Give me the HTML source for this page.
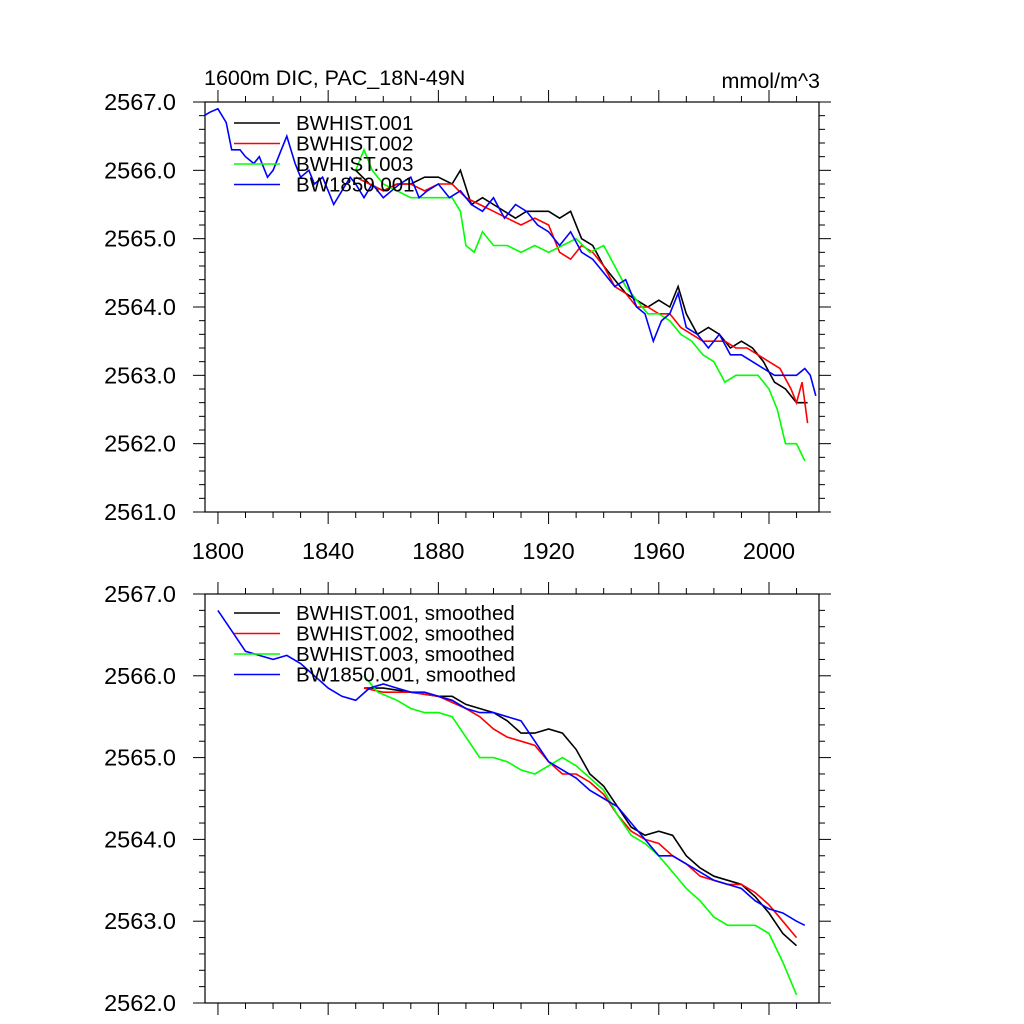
<!DOCTYPE html>
<html><head><meta charset="utf-8"><style>
body{margin:0;background:#fff}
svg{display:block;font-family:"Liberation Sans",sans-serif}
</style></head><body>
<svg id="c" width="1024" height="1024" xmlns="http://www.w3.org/2000/svg"></svg>
<script>
const b1850Years=[1795,1797,1800,1803,1805,1808,1810,1813,1815,1818,1820,1823,1825,1828,1830,1833,1835,1838,1840,1842,1845,1848,1850,1853,1856,1860,1863,1866,1870,1873,1876,1880,1884,1888,1892,1896,1900,1904,1908,1912,1916,1920,1924,1928,1932,1936,1940,1944,1948,1952,1955,1958,1961,1964,1967,1970,1974,1978,1982,1986,1990,1994,1998,2002,2006,2010,2013,2015,2017];
const b1850Vals=[2566.8,2566.85,2566.9,2566.7,2566.3,2566.3,2566.2,2566.1,2566.2,2565.9,2566.0,2566.3,2566.5,2566.1,2565.9,2566.0,2565.8,2565.9,2565.7,2565.5,2565.7,2565.9,2565.8,2565.6,2565.8,2565.6,2565.7,2565.8,2565.9,2565.6,2565.7,2565.8,2565.6,2565.7,2565.5,2565.4,2565.6,2565.3,2565.5,2565.4,2565.2,2565.1,2564.9,2565.1,2564.8,2564.7,2564.5,2564.3,2564.4,2564.0,2563.9,2563.5,2563.8,2563.9,2564.2,2563.7,2563.6,2563.4,2563.6,2563.3,2563.3,2563.2,2563.1,2563.0,2563.0,2563.0,2563.1,2563.0,2562.7];
const h1Years=[1850,1855,1860,1865,1870,1875,1880,1885,1888,1892,1896,1900,1904,1908,1912,1916,1920,1924,1928,1932,1936,1940,1944,1948,1952,1956,1960,1964,1967,1970,1974,1978,1982,1986,1990,1994,1998,2002,2006,2010,2014];
const h1Vals=[2566.0,2565.8,2565.7,2565.8,2565.8,2565.9,2565.9,2565.8,2566.0,2565.5,2565.6,2565.5,2565.4,2565.3,2565.4,2565.4,2565.4,2565.3,2565.4,2565.0,2564.9,2564.6,2564.4,2564.2,2564.1,2564.0,2564.1,2564.0,2564.3,2563.9,2563.6,2563.7,2563.6,2563.4,2563.5,2563.4,2563.2,2562.9,2562.8,2562.6,2562.6];
const h2Years=[1850,1855,1860,1865,1870,1875,1880,1885,1890,1895,1900,1905,1910,1915,1920,1924,1928,1932,1936,1940,1944,1948,1952,1956,1960,1964,1968,1972,1976,1980,1984,1988,1992,1996,2000,2004,2008,2010,2012,2014];
const h2Vals=[2565.9,2565.8,2565.7,2565.8,2565.8,2565.7,2565.8,2565.8,2565.6,2565.5,2565.4,2565.3,2565.2,2565.3,2565.2,2564.8,2564.7,2564.9,2564.8,2564.6,2564.3,2564.2,2564.0,2564.0,2563.9,2563.9,2563.7,2563.6,2563.5,2563.5,2563.5,2563.4,2563.4,2563.3,2563.2,2563.1,2562.8,2562.6,2562.9,2562.3];
const h3Years=[1850,1853,1856,1860,1865,1870,1875,1880,1885,1888,1890,1893,1896,1900,1905,1910,1915,1920,1925,1930,1935,1940,1944,1948,1952,1956,1960,1964,1968,1972,1976,1980,1984,1988,1992,1996,2000,2003,2006,2010,2013];
const h3Vals=[2566.0,2566.3,2566.0,2565.8,2565.7,2565.6,2565.6,2565.6,2565.6,2565.4,2564.9,2564.8,2565.1,2564.9,2564.9,2564.8,2564.9,2564.8,2564.9,2565.0,2564.8,2564.9,2564.6,2564.3,2564.1,2563.9,2563.9,2563.8,2563.6,2563.5,2563.3,2563.2,2562.9,2563.0,2563.0,2563.0,2562.8,2562.5,2562.0,2562.0,2561.75];
const s1850Years=[1800,1805,1810,1815,1820,1825,1830,1835,1840,1845,1850,1855,1860,1865,1870,1875,1880,1885,1890,1895,1900,1905,1910,1915,1920,1925,1930,1935,1940,1945,1950,1955,1960,1965,1970,1975,1980,1985,1990,1995,2000,2005,2010,2013];
const s1850Vals=[2566.8,2566.55,2566.3,2566.25,2566.2,2566.25,2566.15,2566.0,2565.85,2565.75,2565.7,2565.85,2565.9,2565.85,2565.8,2565.8,2565.75,2565.7,2565.6,2565.55,2565.55,2565.5,2565.45,2565.2,2564.95,2564.85,2564.75,2564.6,2564.5,2564.4,2564.2,2564.0,2563.8,2563.8,2563.7,2563.6,2563.5,2563.45,2563.4,2563.25,2563.15,2563.1,2563.0,2562.95];
const s1Years=[1853,1860,1870,1880,1885,1890,1895,1900,1905,1910,1915,1920,1925,1930,1935,1940,1945,1950,1955,1960,1965,1970,1975,1980,1985,1990,1995,2000,2005,2010];
const s1Vals=[2565.85,2565.85,2565.8,2565.75,2565.75,2565.65,2565.6,2565.55,2565.45,2565.3,2565.3,2565.35,2565.3,2565.1,2564.8,2564.65,2564.4,2564.15,2564.05,2564.1,2564.05,2563.8,2563.65,2563.55,2563.5,2563.45,2563.3,2563.1,2562.85,2562.7];
const s2Years=[1853,1860,1870,1880,1890,1895,1900,1905,1910,1915,1920,1925,1930,1935,1940,1945,1950,1955,1960,1965,1970,1975,1980,1985,1990,1995,2000,2005,2010];
const s2Vals=[2565.85,2565.8,2565.8,2565.75,2565.6,2565.5,2565.35,2565.25,2565.2,2565.15,2564.95,2564.8,2564.8,2564.7,2564.55,2564.3,2564.1,2564.0,2563.95,2563.8,2563.7,2563.55,2563.5,2563.45,2563.45,2563.35,2563.2,2563.0,2562.8];
const s3Years=[1853,1858,1865,1870,1875,1880,1885,1890,1895,1900,1905,1910,1915,1920,1925,1930,1935,1940,1945,1950,1955,1960,1965,1970,1975,1980,1985,1990,1995,2000,2005,2010];
const s3Vals=[2566.0,2565.8,2565.7,2565.6,2565.55,2565.55,2565.5,2565.25,2565.0,2565.0,2564.95,2564.85,2564.8,2564.9,2565.0,2564.9,2564.75,2564.6,2564.3,2564.05,2563.95,2563.8,2563.6,2563.4,2563.25,2563.05,2562.95,2562.95,2562.95,2562.85,2562.5,2562.1];
const xTicks=[1800,1840,1880,1920,1960,2000];

const svg=document.getElementById('c');
const NS='http://www.w3.org/2000/svg';
function mk(t,a,p){const e=document.createElementNS(NS,t);for(const k in a)e.setAttribute(k,a[k]);(p||svg).appendChild(e);return e;}
const X0=205,X1=819,XMIN=1795.3,XMAX=2018.15;
const xs=v=>X0+(v-XMIN)/(XMAX-XMIN)*(X1-X0);

function panel(name,top,bot,ymin,ymax,showXLabels,series,legendY){
  const g=mk('g',{});
  
  
  const ys=v=>bot-(v-ymin)/(ymax-ymin)*(bot-top);
  mk('rect',{x:X0,y:top,width:X1-X0,height:bot-top,fill:'none',stroke:'#000','stroke-width':1.2},g);
  for(let yr=1800;yr<=2010;yr+=10){
    const maj=(yr-1800)%40===0,L=maj?12:6,x=xs(yr);
    mk('line',{x1:x,x2:x,y1:bot,y2:bot+L,stroke:'#000','stroke-width':1},g);
    mk('line',{x1:x,x2:x,y1:top,y2:top-L,stroke:'#000','stroke-width':1},g);
  }
  for(let i=0;i<=Math.round((ymax-ymin)*5);i++){
    const v=ymin+i*0.2,maj=i%5===0,L=maj?12:6,y=ys(v);
    mk('line',{x1:X0,x2:X0-L,y1:y,y2:y,stroke:'#000','stroke-width':1},g);
    mk('line',{x1:X1,x2:X1+L,y1:y,y2:y,stroke:'#000','stroke-width':1},g);
    if(maj){const t=mk('text',{x:176,y:y+8,'text-anchor':'end','font-size':23.5},g);t.textContent=v.toFixed(1);
      }
  }
  if(showXLabels) xTicks.forEach(v=>{const t=mk('text',{x:xs(v),y:bot+47,'text-anchor':'middle','font-size':23.5},g);t.textContent=v;
    });
  series.forEach(s=>{
    const d=s.years.map((yr,i)=>(i?'L':'M')+xs(yr).toFixed(1)+','+ys(s.vals[i]).toFixed(1)).join('');
    const p=mk('path',{d:d,fill:'none',stroke:s.color,'stroke-width':1.6},g);
    
    
  });
  series.forEach((s,i)=>{
    const y=legendY+i*20.5;
    const lg=mk('g',{},g);
    
    
    mk('line',{x1:234,x2:280,y1:y,y2:y,stroke:s.color,'stroke-width':1.6},lg);
    const t=mk('text',{x:296,y:y+7,'font-size':20.5},lg);t.textContent=s.label;
  });
}
panel('top-panel',102,512,2561,2567,true,[
 {id:'line-bwhist-001',label:'BWHIST.001',color:'#000',years:h1Years,vals:h1Vals},
 {id:'line-bwhist-002',label:'BWHIST.002',color:'#f00',years:h2Years,vals:h2Vals},
 {id:'line-bwhist-003',label:'BWHIST.003',color:'#0f0',years:h3Years,vals:h3Vals},
 {id:'line-bw1850-001',label:'BW1850.001',color:'#00f',years:b1850Years,vals:b1850Vals}],123);
panel('bottom-panel',594,1003,2562,2567,false,[
 {id:'line-bwhist-001-smoothed',label:'BWHIST.001, smoothed',color:'#000',years:s1Years,vals:s1Vals},
 {id:'line-bwhist-002-smoothed',label:'BWHIST.002, smoothed',color:'#f00',years:s2Years,vals:s2Vals},
 {id:'line-bwhist-003-smoothed',label:'BWHIST.003, smoothed',color:'#0f0',years:s3Years,vals:s3Vals},
 {id:'line-bw1850-001-smoothed',label:'BW1850.001, smoothed',color:'#00f',years:s1850Years,vals:s1850Vals}],613);
const t1=mk('text',{x:204,y:85,'font-size':21.5});t1.textContent='1600m DIC, PAC_18N-49N';

const t2=mk('text',{x:820,y:88,'font-size':21.5,'text-anchor':'end'});t2.textContent='mmol/m^3';

</script>
</body></html>
